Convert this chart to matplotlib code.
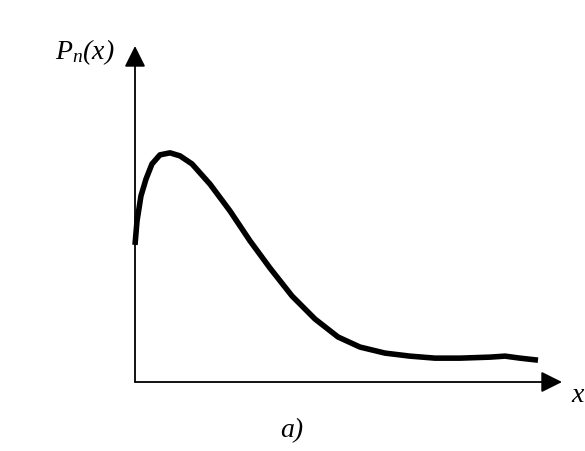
import numpy as np
import matplotlib.pyplot as plt

plt.rcParams['mathtext.fontset'] = 'custom'
plt.rcParams['mathtext.it'] = 'Liberation Serif:italic'
plt.rcParams['mathtext.rm'] = 'Liberation Serif:italic'
plt.rcParams['font.family'] = ['Liberation Serif', 'DejaVu Serif']

# curve (x along axis 0..10, y 0..1)
xs = [0.0, 0.047, 0.14, 0.258, 0.398, 0.585, 0.82, 1.054, 1.335, 1.756,
      2.225, 2.693, 3.162, 3.677, 4.215, 4.754, 5.269, 5.855, 6.44, 7.026,
      7.611, 8.314, 8.665, 9.016, 9.438]
ys = [0.408, 0.479, 0.554, 0.604, 0.649, 0.676, 0.682, 0.673, 0.649, 0.589,
      0.509, 0.420, 0.339, 0.256, 0.1875, 0.134, 0.104, 0.086, 0.077, 0.071,
      0.071, 0.074, 0.077, 0.071, 0.065]

W, H = 585, 452
fig = plt.figure(figsize=(W / 100, H / 100), dpi=100)
ax = fig.add_axes([135 / W, (H - 383) / H, (562 - 135) / W, (383 - 47) / H])
ax.set_xlim(0, 10)
ax.set_ylim(0, 1)
ax.axis('off')

ax.plot(xs, ys, color='black', lw=4, solid_capstyle='butt', clip_on=False)

# axes with arrow heads
arr = dict(arrowstyle='-|>', color='black', lw=1.3, mutation_scale=32,
           shrinkA=0, shrinkB=0)
ax.annotate('', xy=(0, 1), xytext=(0, 0), arrowprops=arr, annotation_clip=False)
ax.annotate('', xy=(10, 0), xytext=(0, 0), arrowprops=arr, annotation_clip=False)

fig.text(85 / W, 1 - 52 / H, r'$P_n(x)$', fontsize=20, ha='center', va='center')
fig.text(578 / W, 1 - 396 / H, 'x', fontsize=20, style='italic', ha='center', va='center')
fig.text(292 / W, 1 - 431 / H, 'a)', fontsize=20, style='italic', ha='center', va='center')

fig.savefig('out.png', dpi=100)
